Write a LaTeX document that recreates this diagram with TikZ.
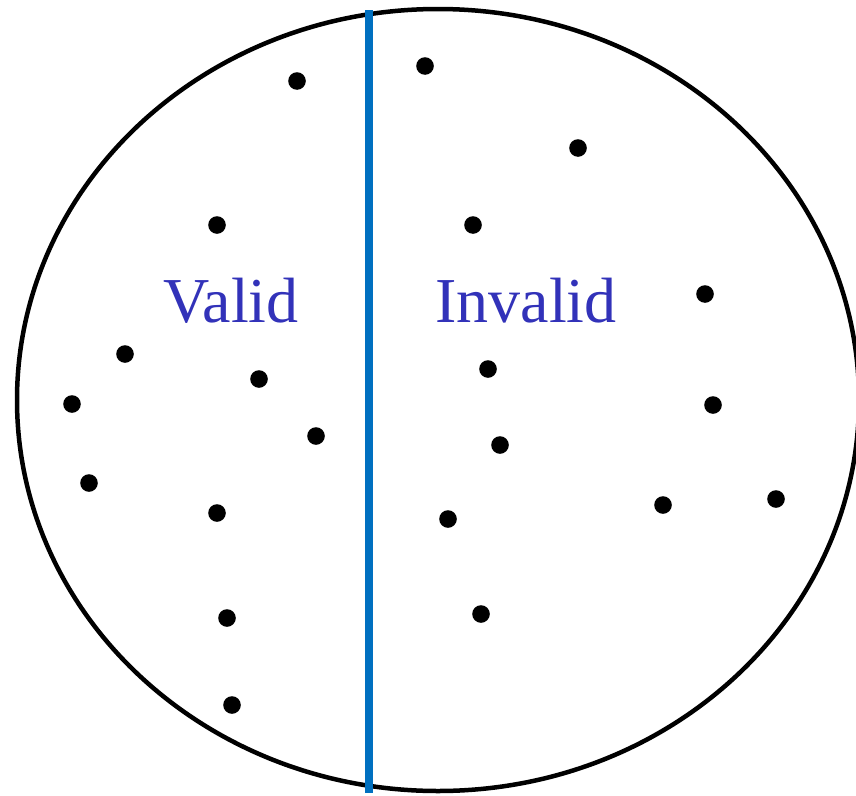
\documentclass[tikz,border=0pt]{standalone}
\usepackage{fontspec}
\setmainfont{Liberation Serif}
\usepackage{xcolor}
\usetikzlibrary{positioning}
\definecolor{labelblue}{RGB}{50,50,185}
\definecolor{splitblue}{RGB}{0,112,192}

\begin{document}
\begin{tikzpicture}[x=1pt,y=-1pt, every node/.style={font=\fontsize{64}{64}\selectfont,text=labelblue,anchor=base,inner sep=0pt},
  pt/.style={fill=black,draw=none}]
\useasboundingbox (0,0) rectangle (856,795);
\draw[line width=4.5pt] (438,400) ellipse [x radius=421,y radius=391];
\draw[splitblue,line width=8pt] (369,10) -- (369,793);
\node (valid) at (231,322) {Valid};
\node (invalid) at (526,322) {Invalid};
% sample points
\foreach \x/\y in {297/81,425/66,578/148,217/225,473/225,705/294,125/354,259/379,488/369,72/404,713/405,316/436,500/445,89/483,217/513,448/519,663/505,776/499,227/618,481/614,232/705}
  \fill[pt] (\x,\y) circle (8.8);
\end{tikzpicture}
\end{document}
